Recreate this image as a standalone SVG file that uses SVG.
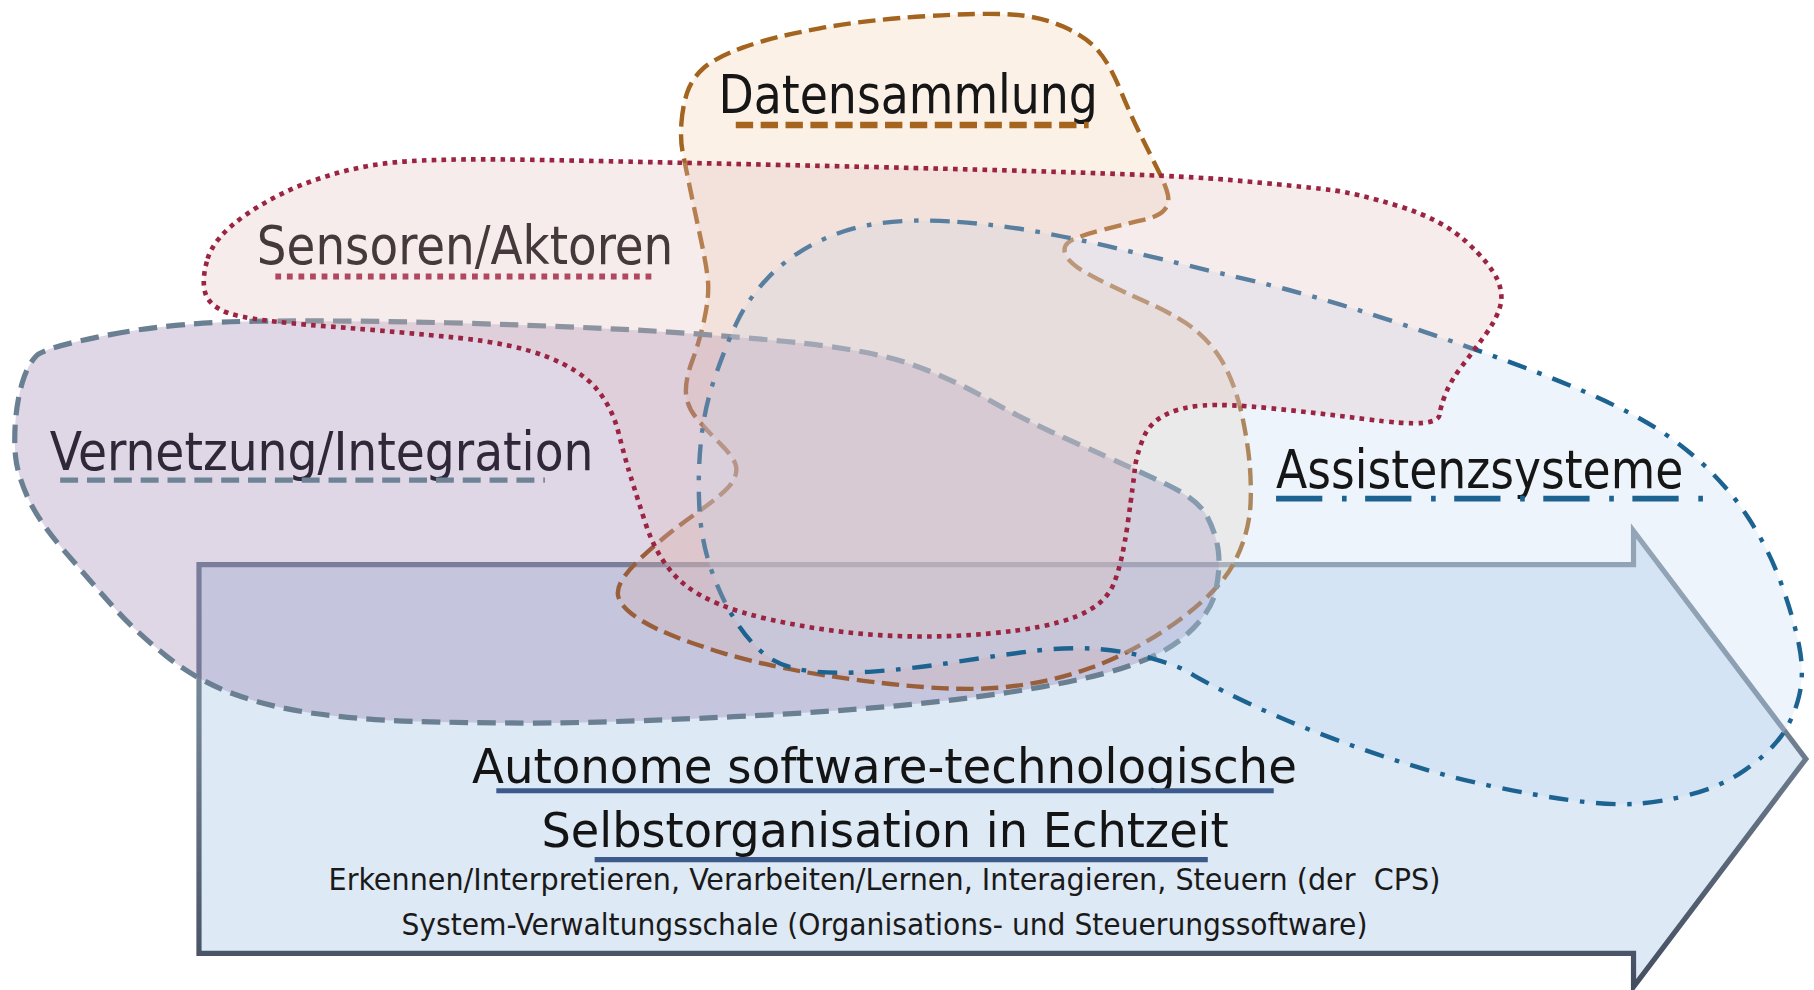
<svg xmlns="http://www.w3.org/2000/svg" width="1814" height="990" viewBox="0 0 1814 990">
<defs>
<linearGradient id="arrowStroke" gradientUnits="userSpaceOnUse" x1="0" y1="459" x2="0" y2="853">
<stop offset="0" stop-color="#7f8e9e"/>
<stop offset="0.4" stop-color="#738495"/>
<stop offset="1" stop-color="#444e60"/>
</linearGradient>
<style>
.lbl{font-family:"DejaVu Sans Condensed","DejaVu Sans","Liberation Sans",sans-serif;font-stretch:condensed;}
.big{font-size:46px;}
.mid{font-size:41.5px;fill:#141414;}
.small{font-size:26px;fill:#1a1a1a;}
.ul{fill:none;}
</style>
</defs>
<rect width="1814" height="990" fill="#ffffff"/>
<g transform="scale(1.156888)">
<g id="autonome-selbstorganisation">
<path d="M 172,488 L 1412,488 L 1412,459 L 1561,656 L 1412,853 L 1412,824 L 172,824 Z" fill="#dde9f5" stroke="url(#arrowStroke)" stroke-width="4.5"/>
<text class="lbl mid" x="408" y="677" textLength="713" lengthAdjust="spacingAndGlyphs">Autonome software-technologische</text>
<line class="ul" x1="429" y1="683.5" x2="1101" y2="683.5" stroke="#3d5a8c" stroke-width="4.5"/>
<text class="lbl mid" x="468" y="732" textLength="594" lengthAdjust="spacingAndGlyphs">Selbstorganisation in Echtzeit</text>
<line class="ul" x1="514" y1="743" x2="1044" y2="743" stroke="#3d5a8c" stroke-width="4.5"/>
<text class="lbl small" x="284" y="769" textLength="961" lengthAdjust="spacingAndGlyphs" xml:space="preserve">Erkennen/Interpretieren, Verarbeiten/Lernen, Interagieren, Steuern (der  CPS)</text>
<text class="lbl small" x="347" y="808" textLength="835" lengthAdjust="spacingAndGlyphs">System-Verwaltungsschale (Organisations- und Steuerungssoftware)</text>
</g>
<g id="datensammlung">
<path d="M 589,106.5 Q 590,92 594,80 Q 598,68 608,59 Q 618,50 642.5,41 Q 667,32 708.5,24.5 Q 750,17 799.5,14 Q 849,11 874,12.5 Q 899,14 919,23 Q 939,32 949,43.5 Q 959,55 968.5,78 Q 978,101 986.5,118 Q 995,135 1001.5,148 Q 1008,161 1009.5,168.5 Q 1011,176 1006.5,181.5 Q 1002,187 988.5,190 Q 975,193 952,199 Q 929,205 923.5,209.5 Q 918,214 921.5,221 Q 925,228 940,236.5 Q 955,245 987.5,259.5 Q 1020,274 1033.5,285.5 Q 1047,297 1055,310 Q 1063,323 1068.5,340 Q 1074,357 1078,383 Q 1082,409 1081,434.5 Q 1080,460 1067.5,485 Q 1055,510 1018.5,536.5 Q 982,563 943.5,577 Q 905,591 862.5,594.5 Q 820,598 746.5,588.5 Q 673,579 625,564.5 Q 577,550 555.5,537 Q 534,524 534,512.5 Q 534,501 555.5,481 Q 577,461 602,443.5 Q 627,426 632.5,417.5 Q 638,409 636,402 Q 634,395 622.5,383.5 Q 611,372 602.5,362 Q 594,352 593,340.5 Q 592,329 598.5,311.5 Q 605,294 609,275 Q 613,256 612,243.5 Q 611,231 605.5,205.5 Q 600,180 596,160.5 Q 592,141 590,131 Q 588,121 589,106.5 Z" fill="rgb(243,210,175)" fill-opacity="0.3" stroke="#a3641f" stroke-width="3.8" stroke-dasharray="15 6.5"/>
<text class="lbl big" x="621" y="98" fill="#161616" textLength="328" lengthAdjust="spacingAndGlyphs">Datensammlung</text>
<line class="ul" x1="636" y1="108" x2="941" y2="108" stroke="#a6651f" stroke-width="5.5" stroke-dasharray="15 6.5"/>
</g>
<g id="vernetzung-integration">
<path d="M 96.5,289 Q 154,278 231.5,277.5 Q 309,277 386,279 Q 463,281 534,284.5 Q 605,288 677.5,295 Q 750,302 785,314 Q 820,326 852.5,344.5 Q 885,363 933.5,384.5 Q 982,406 1009,419 Q 1036,432 1043.5,446.5 Q 1051,461 1053,475.5 Q 1055,490 1051,510 Q 1047,530 1024,550 Q 1001,570 953,582.5 Q 905,595 827.5,604.5 Q 750,614 634.5,619.5 Q 519,625 462,625 Q 405,625 357,623.5 Q 309,622 270.5,616.5 Q 232,611 201,599.5 Q 170,588 143,566.5 Q 116,545 96.5,523 Q 77,501 55,475.5 Q 33,450 24,430 Q 15,410 13.5,395 Q 12,380 13.5,362.5 Q 15,345 19.5,330 Q 24,315 31.5,307.5 Q 39,300 96.5,289 Z" fill="rgb(119,81,149)" fill-opacity="0.235" stroke="#6a8092" stroke-width="4.5" stroke-dasharray="16 8"/>
<text class="lbl big" x="43" y="406" fill="#2f2839" textLength="470" lengthAdjust="spacingAndGlyphs">Vernetzung/Integration</text>
<line class="ul" x1="52" y1="415" x2="471" y2="415" stroke="#6e8496" stroke-width="4.6" stroke-dasharray="15.5 7.7"/>
</g>
<g id="assistenzsysteme">
<path d="M 827.5,191.75 Q 866,194.5 904.5,201.75 Q 943,209 981.5,218.5 Q 1020,228 1079.5,242 Q 1139,256 1206.5,278.5 Q 1274,301 1325,320.5 Q 1376,340 1409.5,357.5 Q 1443,375 1468.5,398 Q 1494,421 1511.5,448 Q 1529,475 1539.5,504 Q 1550,533 1555,557.5 Q 1560,582 1555,602 Q 1550,622 1539.5,636.5 Q 1529,651 1508.5,665.5 Q 1488,680 1460.5,687 Q 1433,694 1411,695 Q 1389,696 1356.5,691.5 Q 1324,687 1287,679 Q 1250,671 1213.5,659.5 Q 1177,648 1140.5,634 Q 1104,620 1071,604 Q 1038,588 1029,582 Q 1020,576 997,569.5 Q 974,563 949,561 Q 924,559 895,562.5 Q 866,566 827.5,572 Q 789,578 754,580.5 Q 719,583 696,579.5 Q 673,576 659.5,564.5 Q 646,553 634.5,534.5 Q 623,516 614.5,491.5 Q 606,467 604.5,438 Q 603,409 606,380.5 Q 609,352 618,326 Q 627,300 636.5,279.5 Q 646,259 663.5,240.5 Q 681,222 706,209.5 Q 731,197 760,193 Q 789,189 827.5,191.75 Z" fill="rgb(195,218,242)" fill-opacity="0.3" stroke="#1d6391" stroke-width="3.8" stroke-dasharray="17 10 4 10"/>
<text class="lbl big" x="1103" y="422" fill="#161616" textLength="352" lengthAdjust="spacingAndGlyphs">Assistenzsysteme</text>
<line class="ul" x1="1103" y1="431" x2="1475" y2="431" stroke="#1d6391" stroke-width="5" stroke-dasharray="40 17 4 16"/>
</g>
<g id="sensoren-aktoren">
<path d="M 179.5,223.5 Q 185,205 212,186 Q 239,167 274,155 Q 309,143 344.5,140 Q 380,137 449.5,138 Q 519,139 760,144.5 Q 1001,150 1062.5,155.5 Q 1124,161 1148.5,164 Q 1173,167 1210,178.5 Q 1247,190 1267.5,209 Q 1288,228 1294,241 Q 1300,254 1296.5,265.5 Q 1293,277 1283.5,290 Q 1274,303 1264,316 Q 1254,329 1249.5,340.5 Q 1245,352 1244.5,358 Q 1244,364 1230.5,365.5 Q 1217,367 1178,362 Q 1139,357 1099,353 Q 1059,349 1039.5,350.5 Q 1020,352 1006.5,359 Q 993,366 987.5,380.5 Q 982,395 981,405 Q 980,415 975,451 Q 970,487 962.5,505 Q 955,523 930,533 Q 905,543 856.5,547.5 Q 808,552 760,549 Q 712,546 663.5,535 Q 615,524 592,505.5 Q 569,487 557.5,451 Q 546,415 543,405 Q 540,395 534.5,373.5 Q 529,352 515.5,336 Q 502,320 473,308.5 Q 444,297 395.5,292 Q 347,287 281.5,282 Q 216,277 198.5,271 Q 181,265 177.5,253.5 Q 174,242 179.5,223.5 Z" fill="rgb(225,192,192)" fill-opacity="0.3" stroke="#9b2442" stroke-width="4" stroke-dasharray="4 4.5"/>
<text class="lbl big" x="222" y="228" fill="#45393b" textLength="360" lengthAdjust="spacingAndGlyphs">Sensoren/Aktoren</text>
<line class="ul" x1="238" y1="239" x2="565" y2="239" stroke="#b04860" stroke-width="5" stroke-dasharray="5 5"/>
</g>
</g>
</svg>
